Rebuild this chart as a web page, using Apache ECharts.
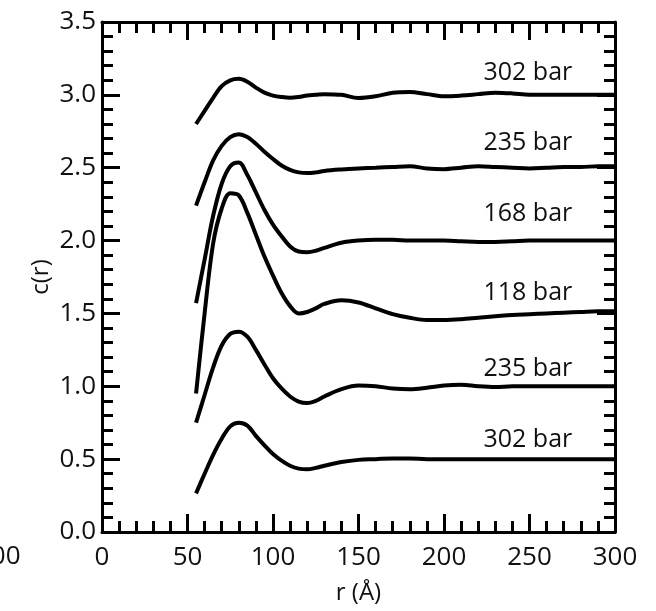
<!DOCTYPE html>
<html>
<head>
<meta charset="utf-8">
<script src="https://cdn.jsdelivr.net/npm/echarts@6/dist/echarts.min.js"></script>
<style>
  html, body { margin: 0; padding: 0; background: #fff; }
  #box { width: 656px; height: 611px; }
</style>
</head>
<body>
<div id="box"></div>
<script>
// r values (Å) shared by every curve
var r = [55, 60, 65, 70, 75, 80, 85, 90, 95, 100, 105, 110, 115, 120, 125, 130,
         140, 150, 160, 170, 180, 190, 200, 210, 220, 230, 240, 250, 260, 270, 280, 290, 300];

// c(r) curves, top to bottom (already offset as in the figure)
var c302top = [2.80, 2.89, 2.98, 3.06, 3.10, 3.11, 3.09, 3.05, 3.015, 2.995, 2.985, 2.98, 2.985, 2.995, 3.0, 3.005,
               3.0, 2.978, 2.99, 3.015, 3.02, 3.005, 2.99, 2.995, 3.005, 3.015, 3.01, 3.0, 3.0, 3.0, 3.0, 3.0, 3.0];
var c235top = [2.24, 2.40, 2.55, 2.65, 2.71, 2.73, 2.71, 2.665, 2.61, 2.56, 2.515, 2.485, 2.468, 2.463, 2.468, 2.478,
               2.488, 2.495, 2.5, 2.505, 2.51, 2.495, 2.49, 2.5, 2.51, 2.505, 2.5, 2.495, 2.5, 2.505, 2.505, 2.51, 2.51];
var c168 = [1.57, 1.87, 2.17, 2.39, 2.51, 2.535, 2.45, 2.33, 2.21, 2.11, 2.03, 1.96, 1.925, 1.92, 1.93, 1.95,
            1.985, 2.0, 2.005, 2.005, 2.0, 2.0, 2.0, 1.995, 1.99, 1.99, 1.995, 2.0, 2.0, 2.0, 2.0, 2.0, 2.0];
var c118 = [0.95, 1.50, 1.98, 2.22, 2.325, 2.31, 2.19, 2.04, 1.89, 1.76, 1.64, 1.55, 1.50, 1.51, 1.535, 1.565,
            1.59, 1.575, 1.535, 1.495, 1.47, 1.455, 1.455, 1.46, 1.47, 1.48, 1.49, 1.495, 1.5, 1.505, 1.51, 1.515, 1.515];
var c235low = [0.75, 0.94, 1.13, 1.28, 1.36, 1.375, 1.34, 1.25, 1.15, 1.055, 0.985, 0.93, 0.895, 0.885, 0.90, 0.93,
               0.98, 1.005, 1.0, 0.985, 0.98, 0.99, 1.005, 1.01, 1.0, 0.995, 1.0, 1.0, 1.0, 1.0, 1.0, 1.0, 1.0];
var c302low = [0.265, 0.40, 0.53, 0.64, 0.725, 0.75, 0.73, 0.66, 0.595, 0.535, 0.49, 0.455, 0.435, 0.43, 0.44, 0.455,
               0.48, 0.495, 0.5, 0.505, 0.505, 0.5, 0.5, 0.5, 0.5, 0.5, 0.5, 0.5, 0.5, 0.5, 0.5, 0.5, 0.5];

// curve labels and where they sit (right edge at labelR)
var labelNames = ['302 bar', '235 bar', '168 bar', '118 bar', '235 bar', '302 bar'];
var labelY = [3.15, 2.67, 2.18, 1.64, 1.12, 0.635];
var labelR = 275;

var curves = [c302top, c235top, c168, c118, c235low, c302low];

var font = 'Open Sans';
var chart = echarts.init(document.getElementById('box'));

function axis(kind, pos, showLabel) {
	var isX = kind === 'x';
	return {
		type: 'value',
		position: pos,
		min: 0,
		max: isX ? 300 : 3.5,
		interval: isX ? 50 : 0.5,
		axisLine: { show: true, onZero: false, lineStyle: { color: '#000', width: 3 } },
		axisTick: { show: true, inside: true, length: 18, lineStyle: { color: '#000', width: 3 } },
		minorTick: { show: true, splitNumber: 5, length: 11, lineStyle: { color: '#000', width: 3 } },
		splitLine: { show: false },
		axisLabel: {
			show: showLabel,
			color: '#111',
			fontFamily: font,
			fontSize: 26,
			margin: isX ? 13 : 6,
			formatter: isX ? '{value}' : function (v) { return v.toFixed(1); }
		},
		name: showLabel ? (isX ? 'r (Å)' : 'c(r)') : '',
		nameLocation: 'middle',
		nameGap: isX ? 49 : 49,
		nameMoveOverlap: false,
		nameTextStyle: { color: '#111', fontFamily: font, fontSize: 24 }
	};
}

var series = curves.map(function (vals, i) {
	return {
		type: 'line',
		data: r.map(function (x, j) { return [x, vals[j]]; }),
		smooth: 0.35,
		showSymbol: false,
		silent: true,
		lineStyle: { color: '#000', width: 4 },
		markPoint: {
			silent: true,
			symbol: 'circle',
			symbolSize: 0,
			data: [{ coord: [labelR, labelY[i]] }],
			label: {
				show: true,
				position: 'left',
				distance: 0,
				formatter: labelNames[i],
				color: '#111',
				fontFamily: font,
				fontSize: 25
			}
		}
	};
});

var option = {
	animation: false,
	backgroundColor: '#fff',
	grid: { left: 102, top: 22, width: 513, height: 510 },
	xAxis: [axis('x', 'bottom', true), axis('x', 'top', false)],
	yAxis: [axis('y', 'left', true), axis('y', 'right', false)],
	graphic: [{
		// edge of the neighbouring panel's axis label
		type: 'text',
		left: -24,
		top: 544,
		style: { text: '300', fill: '#111', font: '26px "Open Sans"' }
	}],
	series: series
};

chart.setOption(option);
</script>
</body>
</html>
